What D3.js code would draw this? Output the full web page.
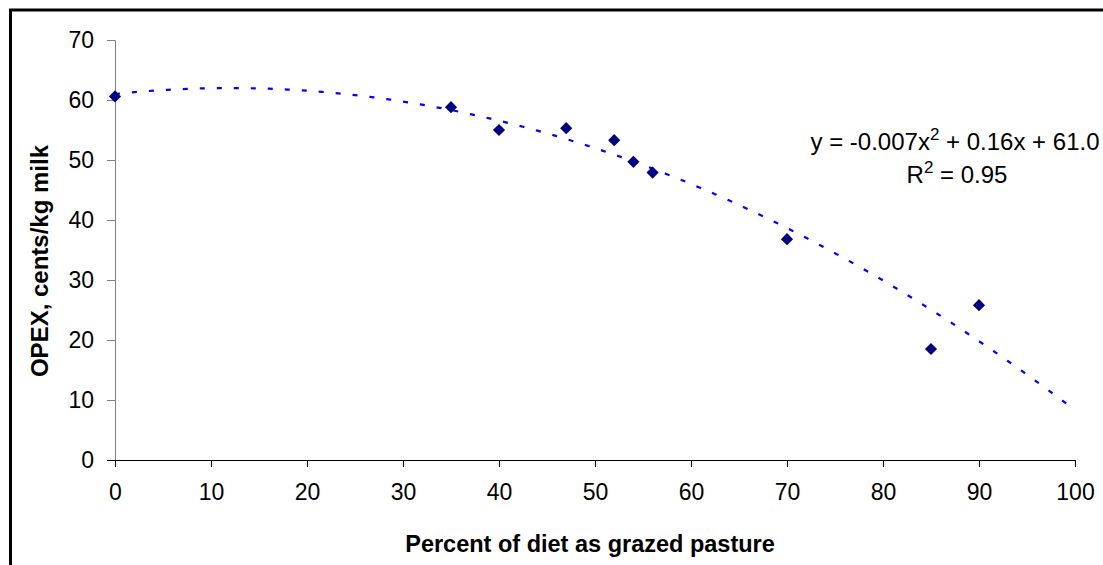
<!DOCTYPE html>
<html>
<head>
<meta charset="utf-8">
<script src="https://cdn.jsdelivr.net/npm/d3@7"></script>
<style>
  html, body { margin: 0; padding: 0; background: #fff; }
  svg { display: block; font-family: Arial, "Liberation Sans", sans-serif; }
</style>
</head>
<body>
<svg id="chart" width="1103" height="565"></svg>
<script>
// ---- data ----
const pastureShare = [0, 35, 40, 47, 52, 54, 56, 70, 85, 90];
const opex = [60.6, 58.8, 55.0, 55.3, 53.3, 49.7, 47.9, 36.8, 18.5, 25.8];
const xTicks = [0, 10, 20, 30, 40, 50, 60, 70, 80, 90, 100];
const yTicks = [0, 10, 20, 30, 40, 50, 60, 70];
// trendline coefficients: c0 + c1*x + c2*x^2
const trendCoef = [61.0, 0.166, -0.00693];
const trendRange = [0, 100];
const eqLine1 = ["y = -0.007x", "2", " + 0.16x + 61.0"];
const eqLine2 = ["R", "2", " = 0.95"];
const xTitle = "Percent of diet as grazed pasture";
const yTitle = "OPEX, cents/kg milk";

// ---- layout ----
const svg = d3.select("#chart");
const plot = { left: 115, right: 1075, top: 40, bottom: 460 };

const x = d3.scaleLinear().domain([0, 100]).range([plot.left, plot.right]);
const y = d3.scaleLinear().domain([0, 70]).range([plot.bottom, plot.top]);

// outer frame
svg.append("rect")
  .attr("x", 10.5).attr("y", 10).attr("width", 1200).attr("height", 700)
  .attr("fill", "none").attr("stroke", "#000").attr("stroke-width", 3);

// y axis
const yAxis = svg.append("g")
  .attr("transform", `translate(${plot.left},0)`)
  .call(d3.axisLeft(y).tickValues(yTicks).tickSize(8).tickPadding(13).tickFormat(d3.format("d")));
yAxis.select(".domain").attr("stroke", "#808080").attr("d", `M-8,${plot.top + 0.5}H0.5V${plot.bottom + 7}`);
yAxis.selectAll(".tick line").attr("stroke", "#808080");
yAxis.selectAll(".tick text").attr("font-size", 23).attr("fill", "#000")
  .attr("font-family", "Arial, 'Liberation Sans', sans-serif");

// x axis
const xAxis = svg.append("g")
  .attr("transform", `translate(0,${plot.bottom})`)
  .call(d3.axisBottom(x).tickValues(xTicks).tickSize(7).tickPadding(17).tickFormat(d3.format("d")));
xAxis.select(".domain").attr("stroke", "#000").attr("d", `M${plot.left - 8},0.5H${plot.right + 0.5}`);
xAxis.selectAll(".tick line").attr("stroke", "#000");
xAxis.selectAll(".tick text").attr("font-size", 23).attr("fill", "#000")
  .attr("font-family", "Arial, 'Liberation Sans', sans-serif");

// trendline
const trendXs = d3.range(trendRange[0], trendRange[1] + 0.001, 0.5);
const trendFn = v => trendCoef[0] + trendCoef[1] * v + trendCoef[2] * v * v;
svg.append("path")
  .datum(trendXs)
  .attr("d", d3.line().x(d => x(d)).y(d => y(trendFn(d))))
  .attr("fill", "none")
  .attr("stroke", "#0000ff")
  .attr("stroke-width", 2.2)
  .attr("stroke-dasharray", "5,12");

// points
const diamond = d3.symbol().type(d3.symbolSquare).size(74);
svg.append("g").selectAll("path")
  .data(pastureShare.map((v, i) => ({ x: v, y: opex[i] })))
  .join("path")
  .attr("d", diamond)
  .attr("transform", d => `translate(${x(d.x)},${y(d.y)}) rotate(45)`)
  .attr("fill", "#000080");

// equation
function richText(parts, cx, by) {
  const t = svg.append("text")
    .attr("x", cx).attr("y", by)
    .attr("text-anchor", "middle")
    .attr("font-size", 24).attr("fill", "#000");
  t.append("tspan").text(parts[0]);
  t.append("tspan").attr("dy", -10).attr("font-size", 17).text(parts[1]);
  t.append("tspan").attr("dy", 10).text(parts[2]);
}
richText(eqLine1, 955, 150);
richText(eqLine2, 957, 183);

// axis titles
svg.append("text")
  .attr("x", 590).attr("y", 552)
  .attr("text-anchor", "middle")
  .attr("font-size", 23.5).attr("font-weight", "bold")
  .text(xTitle);

svg.append("text")
  .attr("transform", "translate(48,261) rotate(-90)")
  .attr("text-anchor", "middle")
  .attr("font-size", 24).attr("font-weight", "bold")
  .text(yTitle);
</script>
</body>
</html>
